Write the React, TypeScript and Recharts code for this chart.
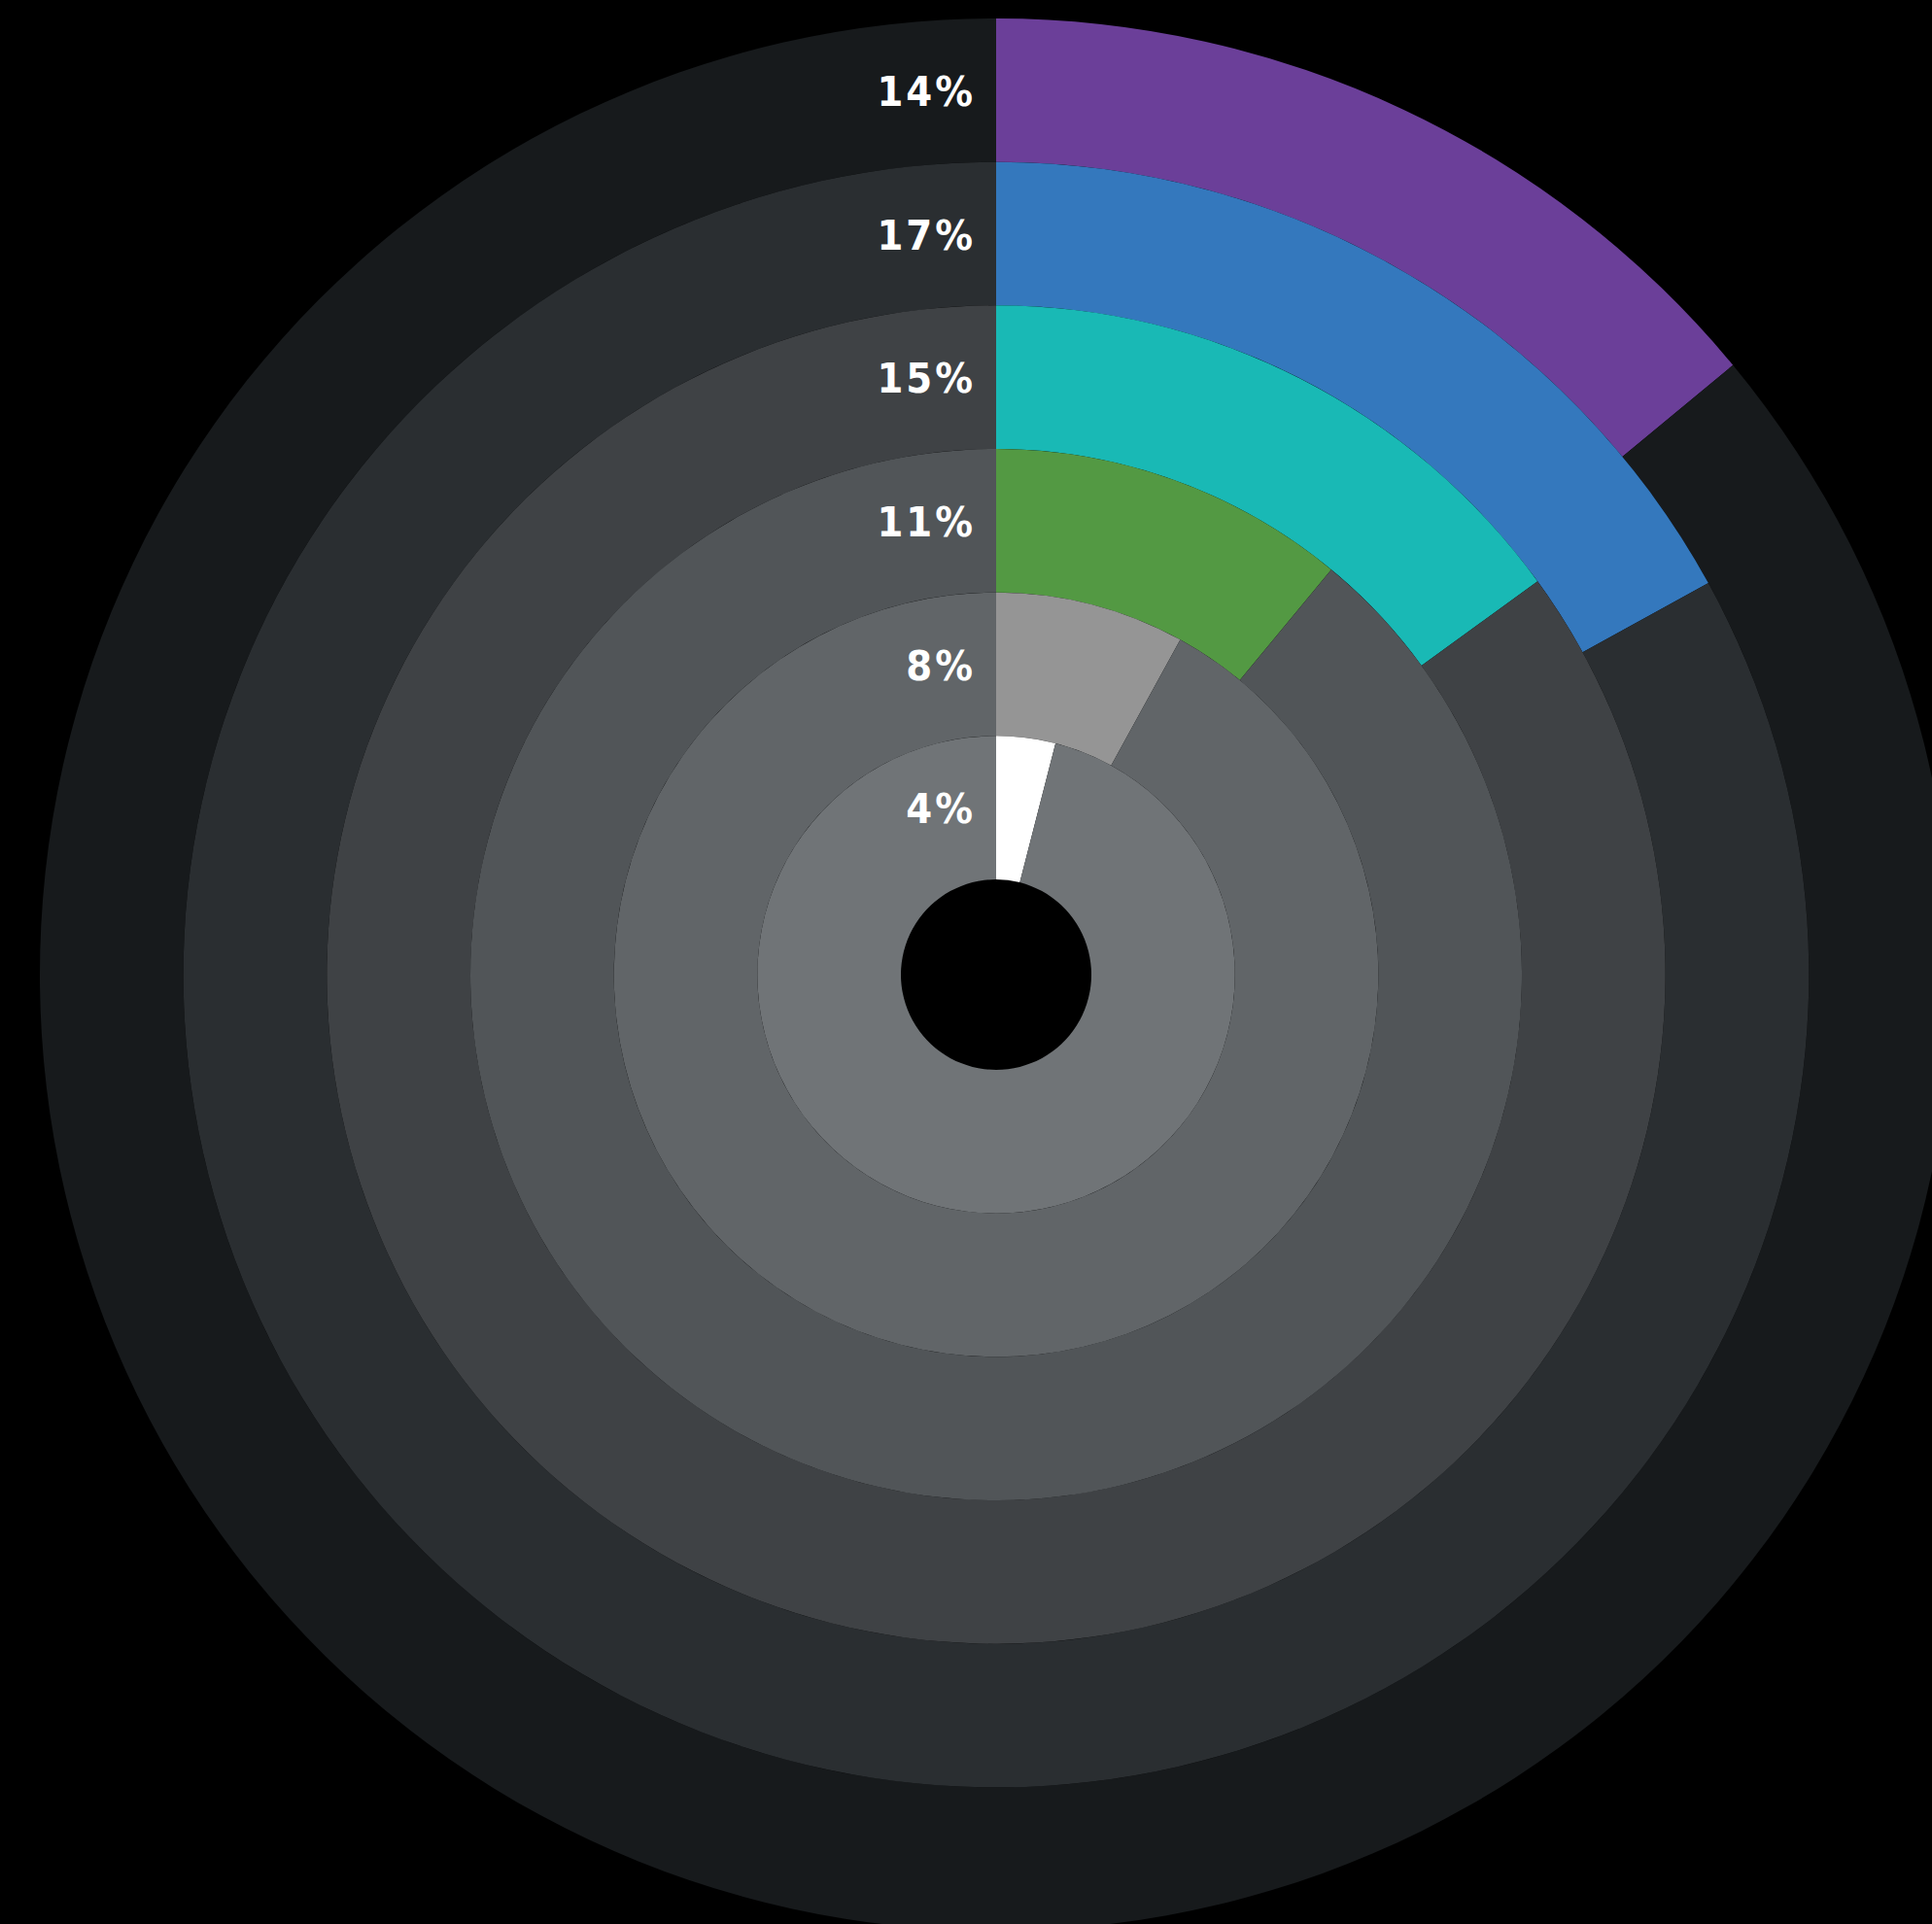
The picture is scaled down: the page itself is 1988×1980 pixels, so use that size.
import { PieChart, Pie, Cell } from "recharts";

// rings, outermost first
const ringLabels = ["14%", "17%", "15%", "11%", "8%", "4%"];
const ringValues = [14, 17, 15, 11, 8, 4];
const arcColors = ["#6b3f99", "#3478bd", "#19b9b5", "#539943", "#959595", "#ffffff"];
const trackColors = ["#171a1c", "#2a2e31", "#3f4245", "#515558", "#616568", "#707477"];

const CX = 1025;
const CY = 1003;
const INNER = 98;
const OUTER = 984;
const RING = (OUTER - INNER) / ringValues.length;

const RingLabel = (text: string) =>
  function Label(props: {
    cx: number;
    cy: number;
    innerRadius: number;
    outerRadius: number;
    index: number;
  }) {
    if (props.index !== 0) return null;
    const mid = (props.innerRadius + props.outerRadius) / 2;
    return (
      <text
        x={props.cx - 21}
        y={props.cy - mid + 16}
        textAnchor="end"
        fill="#ffffff"
        fontFamily="'DejaVu Sans Condensed', 'DejaVu Sans', sans-serif"
        fontWeight="bold"
        fontSize={43}
        letterSpacing={3}
        style={{ fontStretch: "condensed" }}
      >
        {text}
      </text>
    );
  };

export default function App() {
  return (
    <div style={{ position: "fixed", inset: 0, background: "#000", overflow: "hidden" }}>
      <PieChart width={1988} height={1980} margin={{ top: 0, right: 0, bottom: 0, left: 0 }}>
        {ringValues.map((v, i) => {
          const outer = OUTER - i * RING;
          const data = [
            { name: ringLabels[i], value: v },
            { name: "rest", value: 100 - v },
          ];
          return (
            <Pie
              key={i}
              data={data}
              dataKey="value"
              cx={CX}
              cy={CY}
              innerRadius={outer - RING}
              outerRadius={outer}
              startAngle={90}
              endAngle={-270}
              stroke="none"
              labelLine={false}
              label={RingLabel(ringLabels[i])}
              isAnimationActive={false}
            >
              <Cell fill={arcColors[i]} />
              <Cell fill={trackColors[i]} />
            </Pie>
          );
        })}
      </PieChart>
    </div>
  );
}
